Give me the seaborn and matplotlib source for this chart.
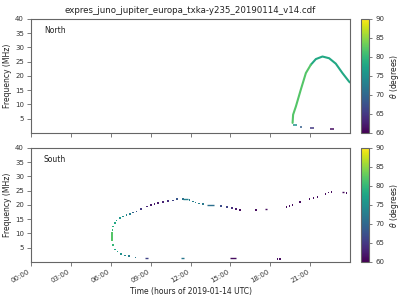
import numpy as np
import pandas as pd
import matplotlib
matplotlib.use("Agg")
import matplotlib.pyplot as plt
import seaborn as sns
from matplotlib.colors import Normalize
from matplotlib.cm import ScalarMappable

# ---------------- data ----------------
hour_ticks = [0, 3, 6, 9, 12, 15, 18, 21]
hour_labels = ["00:00", "03:00", "06:00", "09:00", "12:00", "15:00", "18:00", "21:00"]
freq_ticks = [5, 10, 15, 20, 25, 30, 35, 40]
theta_ticks = [60, 65, 70, 75, 80, 85, 90]

# North: continuous arc
north_curve_time = [19.68, 19.72, 19.93, 20.3, 20.68, 21.05,
                    21.05, 21.43, 21.93, 22.43, 22.93, 23.43, 23.93, 24.0]
north_curve_freq = [3.5, 6.4, 9.3, 15.2, 21.0, 23.9,
                    23.9, 25.9, 26.8, 26.2, 24.3, 21.0, 18.0, 17.7]
north_curve_theta = [82, 82, 82, 82, 82, 82,
                     78, 78, 78, 78, 78, 78, 78, 78]

# North: short low-frequency dashes (start, end, freq, theta)
north_dash_start = [19.72, 20.25, 21.0, 22.5]
north_dash_end = [20.0, 20.4, 21.3, 22.8]
north_dash_freq = [2.6, 2.2, 1.85, 1.4]
north_dash_theta = [75, 69, 65, 61]

# South: dots
south_time = [6.17, 6.3, 6.5, 6.75, 7.05, 7.35, 7.85,
              6.11, 6.11, 6.11, 6.11, 6.11, 6.14, 6.17,
              6.3, 6.43, 6.68, 6.92, 7.18, 7.43, 7.67, 7.93, 8.3, 8.75,
              9.05, 9.3, 9.55, 9.92, 10.3, 10.67, 11.0, 11.42,
              11.93, 12.17, 12.38, 12.62, 12.92,
              14.3, 14.75, 15.1, 15.43, 15.73, 16.93,
              19.22, 19.45, 19.67, 20.25, 20.95, 21.25, 21.55, 22.15, 22.38, 22.6, 23.75,
              18.55, 18.75]
south_freq = [6.0, 4.4, 3.6, 2.8, 2.3, 1.97, 1.6,
              7.7, 8.3, 8.9, 9.5, 10.1, 11.2, 12.4,
              13.6, 14.5, 15.4, 15.9, 16.5, 16.9, 17.3, 17.7, 18.5, 19.5,
              20.0, 20.4, 20.6, 21.0, 21.4, 21.6, 22.0, 22.0,
              21.7, 21.2, 20.9, 20.5, 20.3,
              19.6, 19.2, 18.9, 18.5, 18.2, 18.2,
              19.2, 19.6, 19.9, 21.0, 22.0, 22.4, 22.8, 23.8, 24.3, 24.6, 24.2,
              1.0, 1.0]
south_theta = [80, 78, 77, 75, 74, 73, 72,
               82, 82, 82, 82, 82, 80, 79,
               78, 77, 76, 75, 74, 73, 70, 68, 65, 63,
               62, 62, 62, 63, 64, 66, 68, 71,
               73, 73, 73, 73, 72,
               67, 66, 64, 62, 61, 61,
               61, 61, 61, 61, 61, 61, 61, 61, 61, 61, 61,
               61, 61]

# South: short dashes (start, end, freq, theta)
south_dash_start = [11.45, 13.25, 17.6, 23.4, 8.6, 11.28, 14.95]
south_dash_end = [11.8, 13.8, 17.78, 23.57, 8.82, 11.52, 15.45]
south_dash_freq = [22.0, 19.9, 18.5, 24.6, 1.3, 1.3, 1.2]
south_dash_theta = [73, 71, 61, 61, 66, 72, 61]

# ---------------- style ----------------
sns.set_theme(style="ticks", rc={
    "axes.edgecolor": "#666666",
    "xtick.color": "#666666",
    "ytick.color": "#666666",
    "text.color": "#222222",
    "axes.labelcolor": "#222222",
    "xtick.labelcolor": "#333333",
    "ytick.labelcolor": "#333333",
    "axes.linewidth": 0.8,
})
plt.rcParams["font.family"] = ["DejaVu Sans"]

cmap = plt.get_cmap("viridis")
norm = Normalize(60, 90)

fig = plt.figure(figsize=(4, 3), dpi=100)
ax1 = fig.add_axes([0.0775, 0.557, 0.7975, 0.38])
ax2 = fig.add_axes([0.0775, 0.127, 0.7975, 0.38])
cax1 = fig.add_axes([0.9025, 0.557, 0.02, 0.38])
cax2 = fig.add_axes([0.9025, 0.127, 0.02, 0.38])

# North
north_df = pd.DataFrame({"time": north_curve_time, "freq": north_curve_freq,
                         "theta": north_curve_theta})
sns.lineplot(data=north_df, x="time", y="freq", hue="theta", palette="viridis",
             hue_norm=(60, 90), sort=False, estimator=None, linewidth=1.5,
             legend=False, ax=ax1)
ax1.hlines(north_dash_freq, north_dash_start, north_dash_end,
           colors=[cmap(norm(t)) for t in north_dash_theta], linewidth=1.1)

# South
south_df = pd.DataFrame({"time": south_time, "freq": south_freq, "theta": south_theta})
sns.scatterplot(data=south_df, x="time", y="freq", hue="theta", palette="viridis",
                hue_norm=(60, 90), marker="s", s=1.4, linewidth=0,
                legend=False, ax=ax2)
ax2.hlines(south_dash_freq, south_dash_start, south_dash_end,
           colors=[cmap(norm(t)) for t in south_dash_theta], linewidth=1.0)

for ax, name in [(ax1, "North"), (ax2, "South")]:
    ax.set_xlim(0, 24)
    ax.set_ylim(0, 40)
    ax.set_yticks(freq_ticks)
    ax.set_xticks(hour_ticks)
    ax.tick_params(labelsize=5, length=3, width=0.6, pad=2)
    ax.set_ylabel("Frequency (MHz)", fontsize=5.5, labelpad=2)
    ax.set_xlabel("")
    ax.text(0.04, 0.9, name, transform=ax.transAxes, fontsize=5.5, va="center")
    for s in ax.spines.values():
        s.set_visible(True)

ax1.set_xticklabels([])
ax2.set_xticklabels(hour_labels, rotation=30, ha="right")
ax2.set_xlabel("Time (hours of 2019-01-14 UTC)", fontsize=5.5, labelpad=2)
ax1.set_title("expres_juno_jupiter_europa_txka-y235_20190114_v14.cdf", fontsize=6.2, pad=4)

for cax in (cax1, cax2):
    sm = ScalarMappable(norm=norm, cmap=cmap)
    cb = fig.colorbar(sm, cax=cax, ticks=theta_ticks)
    cb.outline.set_edgecolor("#666666")
    cb.outline.set_linewidth(0.8)
    cax.tick_params(labelsize=5, length=2.5, width=0.6, pad=2)
    cb.set_label(r"$\theta$ (degrees)", fontsize=5.5, labelpad=3)

fig.savefig("out.png", dpi=100)
